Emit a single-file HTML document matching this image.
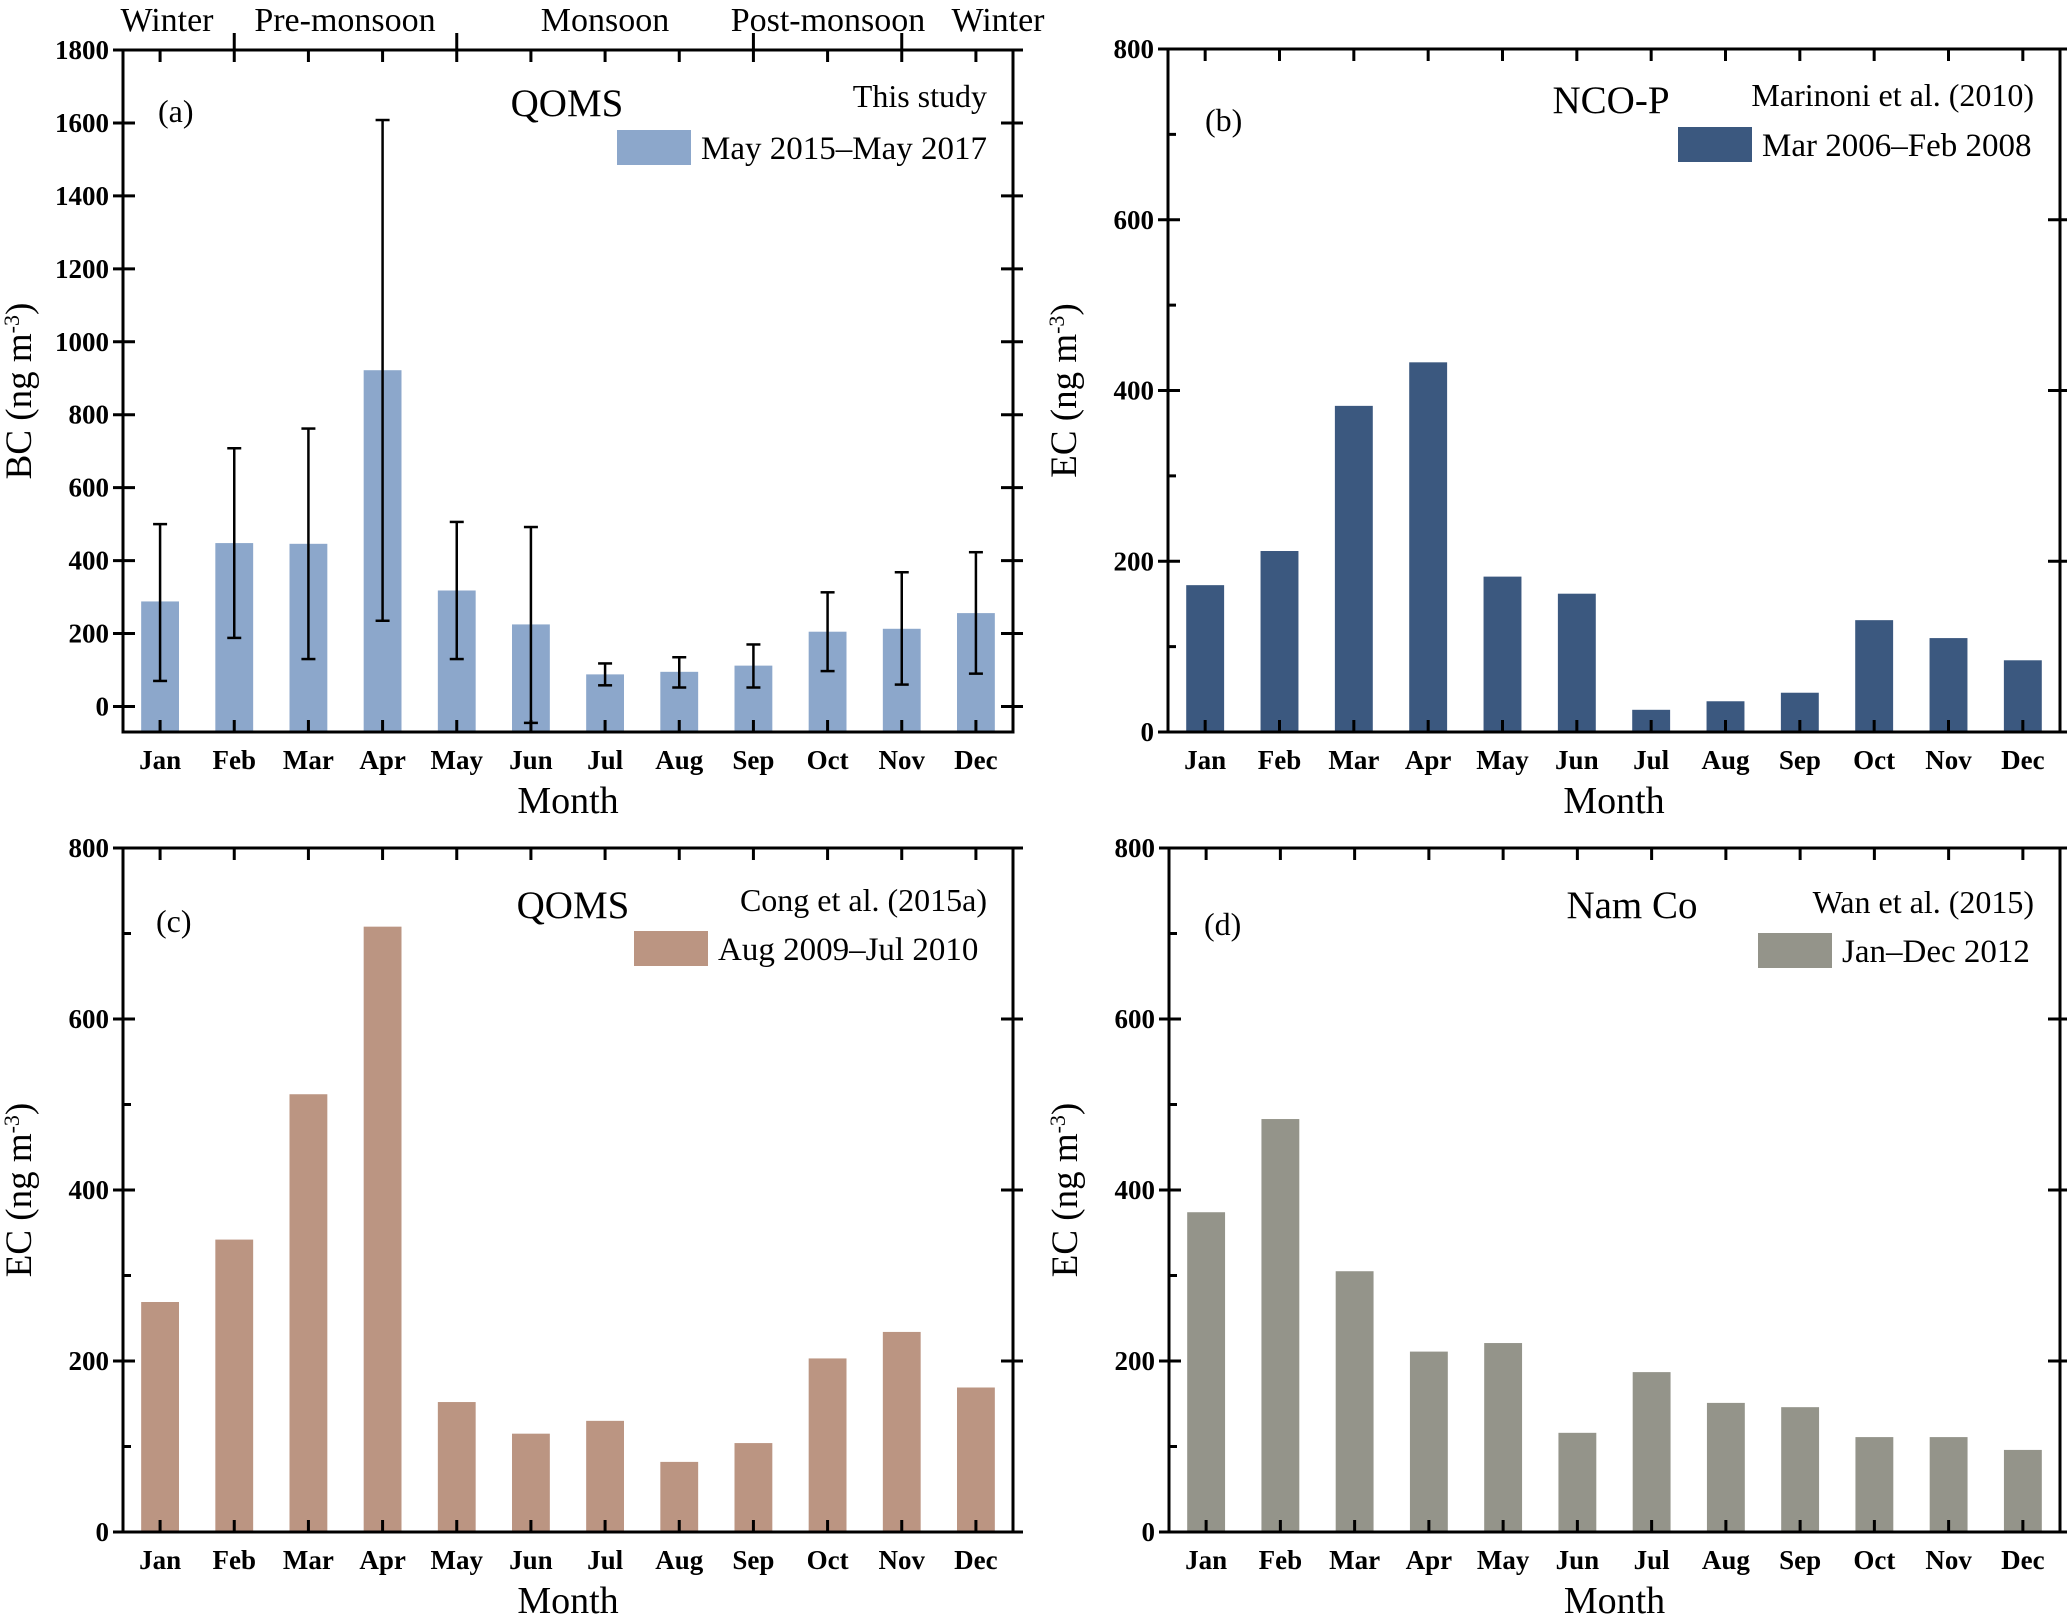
<!DOCTYPE html>
<html><head><meta charset="utf-8"><style>
html,body{margin:0;padding:0;background:#fff}
svg{display:block;font-family:"Liberation Serif",serif}
</style></head><body>
<svg id="chart" width="2067" height="1617" viewBox="0 0 2067 1617" xmlns="http://www.w3.org/2000/svg"></svg>
<script>
const months = ["Jan","Feb","Mar","Apr","May","Jun","Jul","Aug","Sep","Oct","Nov","Dec"];
const bcValues = [288,448,446,922,318,225,88,95,112,205,213,256];
const bcErrLow = [70,188,130,235,130,-45,58,52,52,97,60,90];
const bcErrHigh = [500,708,762,1608,506,492,118,135,170,313,368,423];
const bcTicks = [0,200,400,600,800,1000,1200,1400,1600,1800];
const ncoValues = [172,212,382,433,182,162,26,36,46,131,110,84];
const congValues = [269,342,512,708,152,115,130,82,104,203,234,169];
const namcoValues = [374,483,305,211,221,116,187,151,146,111,111,96];
const ecTicks = [0,200,400,600,800];
const ecMinorTicks = [100,300,500,700];
const seasonLabels = ["Winter","Pre-monsoon","Monsoon","Post-monsoon","Winter"];
const seasonBoundaryIdx = [1,4,8,10];

const NS="http://www.w3.org/2000/svg";
const svg=document.getElementById('chart');
function mk(tag,attrs,parent,text){const e=document.createElementNS(NS,tag);for(const k in attrs)e.setAttribute(k,attrs[k]);if(text!==undefined)e.textContent=text;(parent||svg).appendChild(e);return e;}

function panel(o){
  const g=mk('g',{});
  
  
  const L=o.x0,R=o.x1,T=o.y0,B=o.y1;
  const bw=(R-L)/months.length;
  const xc=i=>L+bw*(i+0.5);
  const y=v=>B-(v-o.ymin)/(o.ymax-o.ymin)*(B-T);
  // bars
  o.values.forEach((v,i)=>{
    const r=mk('rect',{x:xc(i)-bw*0.255,y:y(v),width:bw*0.51,height:B-y(v),fill:o.color},g);
    
    
  });
  // error bars
  if(o.errLow){
    o.values.forEach((v,i)=>{
      const eg=mk('g',{stroke:'#000','stroke-width':2.5},g);
      
      
      const x=xc(i);
      mk('line',{x1:x,x2:x,y1:y(o.errLow[i]),y2:y(o.errHigh[i])},eg);
      mk('line',{x1:x-7,x2:x+7,y1:y(o.errLow[i]),y2:y(o.errLow[i])},eg);
      mk('line',{x1:x-7,x2:x+7,y1:y(o.errHigh[i]),y2:y(o.errHigh[i])},eg);
    });
  }
  // frame
  const fr=mk('rect',{x:L,y:T,width:R-L,height:B-T,fill:'none',stroke:'#000','stroke-width':3},g);
  
  
  // x ticks
  const xg=mk('g',{stroke:'#000','stroke-width':3},g);
  
  
  months.forEach((m,i)=>{
    const x=xc(i);
    mk('line',{x1:x,x2:x,y1:B,y2:B-12},xg);
    mk('line',{x1:x,x2:x,y1:T,y2:T+12},xg);
  });
  const xl=mk('g',{'font-size':27,'font-weight':'bold','text-anchor':'middle'},g);
  
  
  months.forEach((m,i)=>{mk('text',{x:xc(i),y:B+37},xl,m);});
  // y ticks
  const yg=mk('g',{stroke:'#000','stroke-width':3},g);
  
  
  const yl=mk('g',{'font-size':27,'font-weight':'bold','text-anchor':'end'},g);
  
  
  o.ticks.forEach(t=>{
    const yy=y(t);
    mk('line',{x1:L-10,x2:L+12,y1:yy,y2:yy},yg);
    mk('line',{x1:R-12,x2:R+10,y1:yy,y2:yy},yg);
    mk('text',{x:L-14,y:yy+9},yl,String(t));
  });
  (o.minor||[]).forEach(t=>{const yy=y(t);mk('line',{x1:L,x2:L+8,y1:yy,y2:yy},yg);});
  // titles
  const xt=mk('text',{x:(L+R)/2,y:B+81,'font-size':38,'text-anchor':'middle'},g,'Month');
  
  
  const yc=(T+B)/2, yx=L-92;
  const yt=mk('text',{x:yx,y:yc,'font-size':37,'text-anchor':'middle',transform:`rotate(-90 ${yx} ${yc})`},g);
  
  
  yt.textContent=o.ylab+' (ng m';
  mk('tspan',{'font-size':22,dy:-12},yt,'-3');
  mk('tspan',{dy:12},yt,')');
  // annotations
  const pl=mk('text',{x:o.lab[0],y:o.lab[1],'font-size':32},g,o.label);
  
  
  const st=mk('text',{x:o.site[0],y:o.site[1],'font-size':39,'text-anchor':'middle'},g,o.siteName);
  
  
  const rf=mk('text',{x:R-26,y:o.refY,'font-size':32,'text-anchor':'end'},g,o.ref);
  
  
  const lg=mk('g',{},g);
  
  
  mk('rect',{x:o.leg[0],y:o.leg[1],width:74,height:35,fill:o.color},lg);
  mk('text',{x:o.leg[0]+84,y:o.leg[1]+29,'font-size':33},lg,o.legText);
  return {xc,L,R,T};
}

const pa=panel({id:'panel-a',x0:123,x1:1013,y0:50,y1:732,ymin:-70,ymax:1800,values:bcValues,errLow:bcErrLow,errHigh:bcErrHigh,
  ticks:bcTicks,color:'#8ca7cb',ylab:'BC',label:'(a)',lab:[158,122],siteName:'QOMS',site:[567,116],ref:'This study',refY:107,
  leg:[617,130],legText:'May 2015–May 2017'});
panel({id:'panel-b',x0:1168,x1:2060,y0:49,y1:732,ymin:0,ymax:800,values:ncoValues,minor:ecMinorTicks,
  ticks:ecTicks,color:'#3b587f',ylab:'EC',label:'(b)',lab:[1205,131],siteName:'NCO-P',site:[1611,113],ref:'Marinoni et al. (2010)',refY:106,
  leg:[1678,127],legText:'Mar 2006–Feb 2008'});
panel({id:'panel-c',x0:123,x1:1013,y0:848,y1:1532,ymin:0,ymax:800,values:congValues,minor:ecMinorTicks,
  ticks:ecTicks,color:'#bb9582',ylab:'EC',label:'(c)',lab:[156,932],siteName:'QOMS',site:[573,918],ref:'Cong et al. (2015a)',refY:911,
  leg:[634,931],legText:'Aug 2009–Jul 2010'});
panel({id:'panel-d',x0:1169,x1:2060,y0:848,y1:1532,ymin:0,ymax:800,values:namcoValues,minor:ecMinorTicks,
  ticks:ecTicks,color:'#94948a',ylab:'EC',label:'(d)',lab:[1204,935],siteName:'Nam Co',site:[1632,918],ref:'Wan et al. (2015)',refY:913,
  leg:[1758,933],legText:'Jan–Dec 2012'});

// season annotations on panel a
const sg=mk('g',{'font-size':34,'text-anchor':'middle'});


const sx=[167,345,605,828,998];
seasonLabels.forEach((s,i)=>{mk('text',{x:sx[i],y:31},sg,s);});
const sbg=mk('g',{stroke:'#000','stroke-width':3});


seasonBoundaryIdx.forEach(i=>{const x=pa.xc(i);mk('line',{x1:x,x2:x,y1:pa.T,y2:pa.T-17},sbg);});
</script>
</body></html>
